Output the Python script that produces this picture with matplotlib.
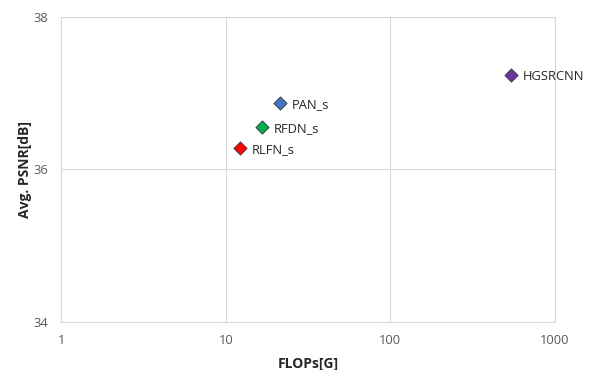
import matplotlib

matplotlib.use("Agg")
import matplotlib.pyplot as plt

# values
models = ["RLFN_s", "RFDN_s", "PAN_s", "HGSRCNN"]
flops = [12.2, 16.6, 21.4, 540.0]
psnr = [36.28, 36.555, 36.87, 37.235]
colors = ["#ff0000", "#00b050", "#4472c4", "#7030a0"]

plt.rcParams["font.family"] = ["Open Sans", "DejaVu Sans"]

fig = plt.figure(figsize=(5.93, 3.70), dpi=100)
ax = fig.add_axes([0.103, 0.130, 0.833, 0.824])

for m, x, y, c in zip(models, flops, psnr, colors):
    ax.scatter(x, y, marker="D", s=45, c=c, edgecolors="#333333",
               linewidths=0.6, zorder=3)
    ax.annotate(m, (x, y), xytext=(8.5, -1), textcoords="offset points",
                va="center", ha="left", fontsize=9.3, color="#262626")

ax.set_xscale("log")
ax.set_xlim(1, 1000)
ax.set_ylim(34, 38)
ax.set_xticks([1, 10, 100, 1000])
ax.set_xticklabels(["1", "10", "100", "1000"])
ax.set_yticks([34, 36, 38])
ax.set_yticklabels(["34", "36", "38"])
ax.minorticks_off()
ax.tick_params(length=0, labelsize=9.3, labelcolor="#595959")
ax.tick_params(axis="x", pad=9)
ax.tick_params(axis="y", pad=9.5)
ax.grid(True, color="#d9d9d9", linewidth=0.8)
for s in ax.spines.values():
    s.set_color("#d9d9d9")
    s.set_linewidth(0.8)

ax.set_xlabel("FLOPs[G]", fontsize=10, fontweight="bold", color="#262626", labelpad=7)
ax.set_ylabel("Avg. PSNR[dB]", fontsize=10, fontweight="bold", color="#262626", labelpad=1)

fig.savefig("out.png", dpi=100)
